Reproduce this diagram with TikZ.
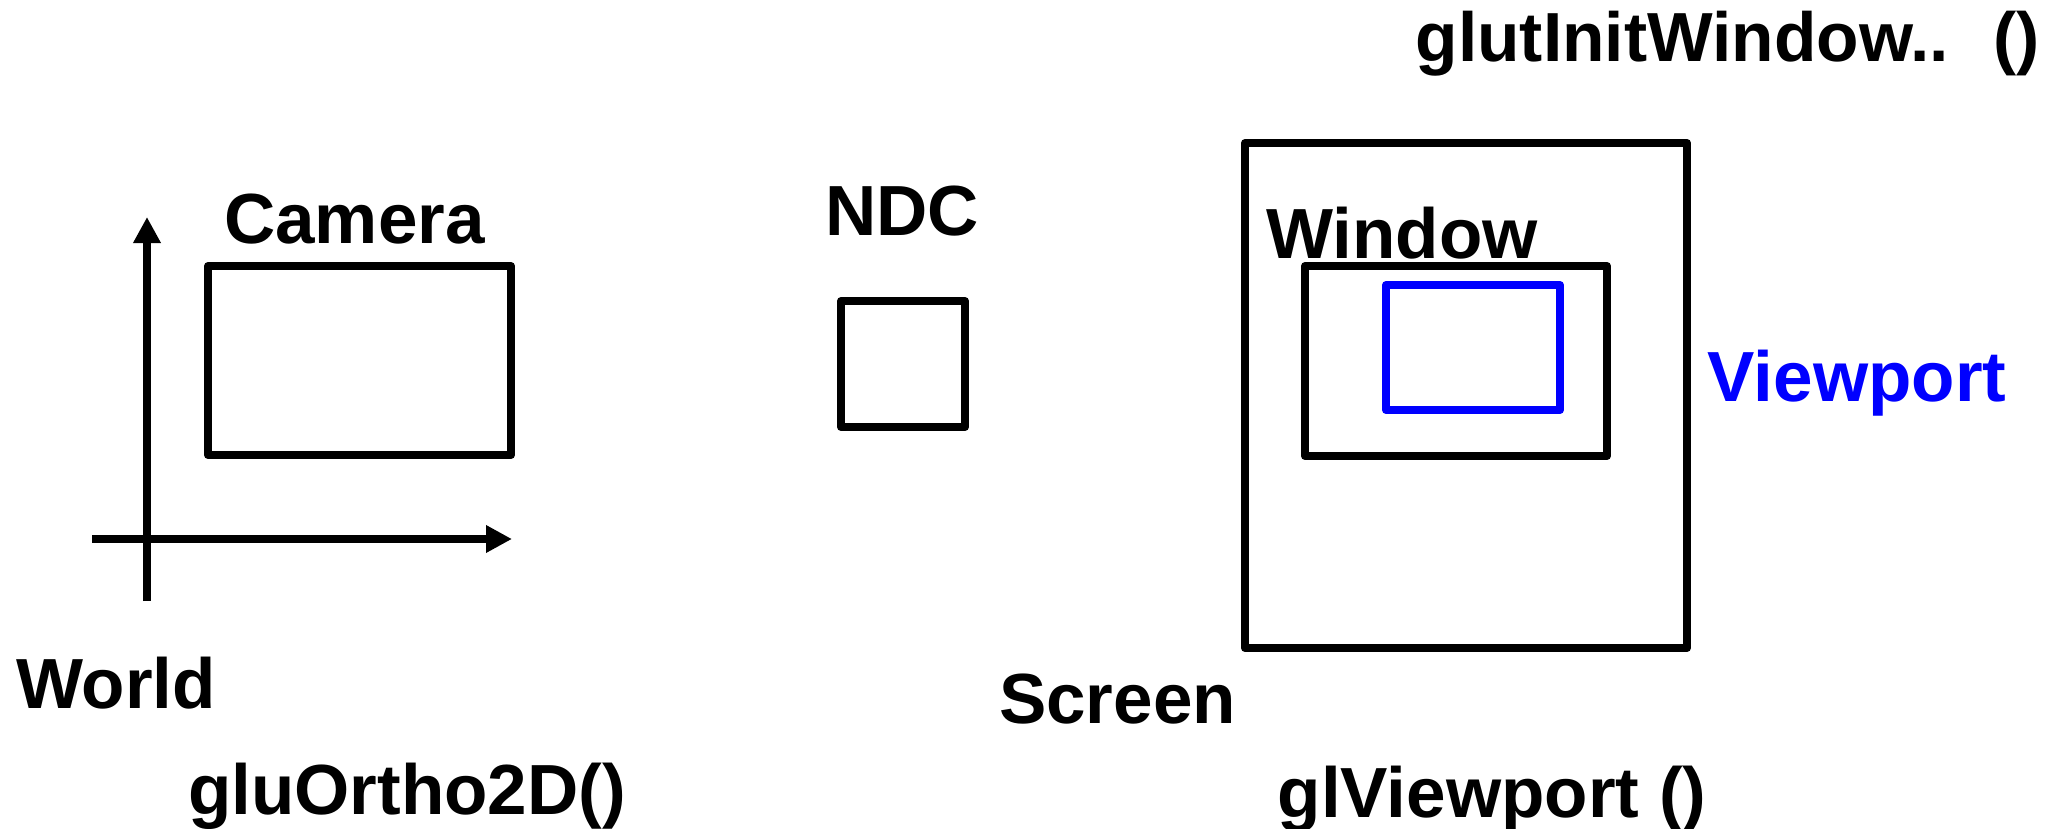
\documentclass[tikz,border=0pt]{standalone}
\usepackage{fontspec}
\setmainfont{Liberation Sans}
\usetikzlibrary{arrows.meta}
\definecolor{vpblue}{RGB}{0,0,255}
\tikzset{
  lbl/.style={font=\fontsize{71}{80}\selectfont\bfseries, inner sep=0pt, anchor=base},
  frame/.style={draw=black, line width=8pt, line join=round, inner sep=0pt, outer sep=0pt, anchor=north west},
  axis/.style={line width=8pt, -{Triangle[length=26pt,width=26pt]}},
}
\begin{document}
\begin{tikzpicture}[x=1pt,y=-1pt]
\useasboundingbox (0,0) rectangle (2058,829);
% axes
\coordinate (yb) at (147,601);
\coordinate (yt) at (147,217);
\coordinate (xl) at (92,539);
\coordinate (xr) at (512,539);
\draw[axis] (yb) -- (yt);
\draw[axis] (xl) -- (xr);
% boxes
\node[frame, minimum width=303pt, minimum height=189pt] (camera) at (208,266) {};
\node[frame, minimum width=124pt, minimum height=126pt] (ndc) at (841,301) {};
\node[frame, minimum width=442pt, minimum height=505pt] (screen) at (1245,143) {};
\node[frame, minimum width=302pt, minimum height=190pt] (window) at (1305,266) {};
\node[frame, draw=vpblue, minimum width=174pt, minimum height=125pt] (viewport) at (1386,285) {};
% labels
\node[lbl] (tcamera) at (354.5,243) {Camera};
\node[lbl] (tworld) at (116,708) {World};
\node[lbl] (tortho) at (407,814) {gluOrtho2D()};
\node[lbl] (tndc) at (902,235) {NDC};
\node[lbl] (twindow) at (1402,258) {Window};
\node[lbl, text=vpblue] (tviewport) at (1857,401) {Viewport};
\node[lbl] (tscreen) at (1117.5,723) {Screen};
\node[lbl] (tglview) at (1492,817) {glViewport ()};
\node[lbl, font=\fontsize{69.5}{80}\selectfont\bfseries, anchor=base east] (tglut) at (2039.5,62) {glutInitWindow..\hspace{44pt}()};
\end{tikzpicture}
\end{document}
